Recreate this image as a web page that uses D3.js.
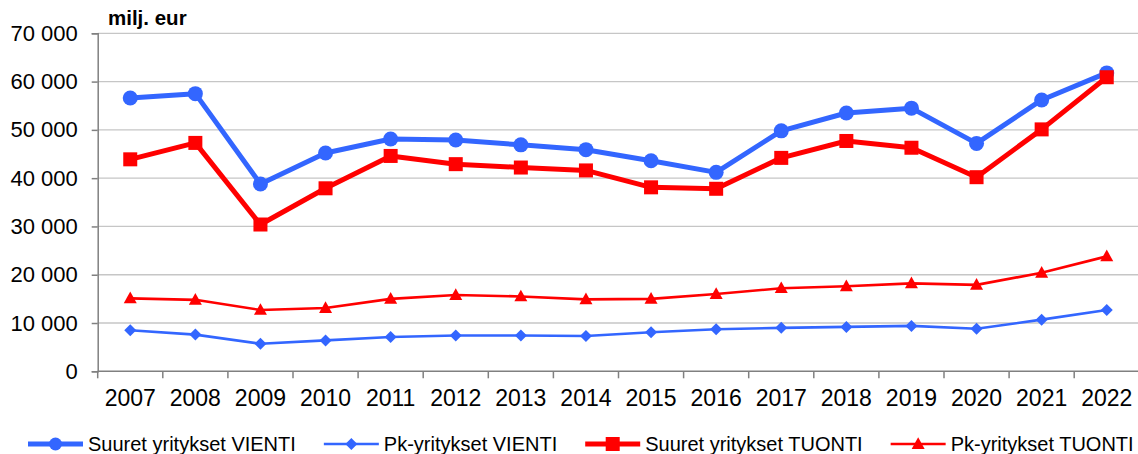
<!DOCTYPE html>
<html>
<head>
<meta charset="utf-8">
<script src="https://cdn.jsdelivr.net/npm/d3@7"></script>
<style>
  html, body { margin: 0; padding: 0; background: #fff; }
  svg { display: block; font-family: "Liberation Sans", Arial, sans-serif; }
</style>
</head>
<body>
<svg id="chart" width="1138" height="454"></svg>
<script>
const years = ["2007", "2008", "2009", "2010", "2011", "2012", "2013", "2014",
  "2015", "2016", "2017", "2018", "2019", "2020", "2021", "2022"];

const suuretVienti = [56600, 57500, 38800, 45200, 48100, 47900, 46900, 45900,
  43600, 41200, 49800, 53500, 54500, 47200, 56200, 61800];
const pkVienti = [8500, 7600, 5700, 6400, 7100, 7400, 7400, 7300,
  8100, 8700, 9000, 9200, 9400, 8800, 10700, 12700];
const suuretTuonti = [43900, 47300, 30400, 37900, 44600, 42900, 42200, 41600,
  38100, 37800, 44200, 47700, 46300, 40200, 50100, 60900];
const pkTuonti = [15100, 14800, 12700, 13100, 15000, 15800, 15500, 14900,
  15000, 16000, 17200, 17600, 18200, 17900, 20400, 23800];

const yTicks = [0, 10000, 20000, 30000, 40000, 50000, 60000, 70000];

const blue = "#3366ff";
const red = "#ff0000";

const series = [
  { name: "Suuret yritykset VIENTI", values: suuretVienti, color: blue, width: 5, marker: "circle" },
  { name: "Pk-yritykset VIENTI", values: pkVienti, color: blue, width: 2.6, marker: "diamond" },
  { name: "Suuret yritykset TUONTI", values: suuretTuonti, color: red, width: 5, marker: "square" },
  { name: "Pk-yritykset TUONTI", values: pkTuonti, color: red, width: 2.6, marker: "triangle" }
];

const svg = d3.select("#chart");

const x = d3.scaleBand().domain(years).range([97.7, 1139.3]);
const y = d3.scaleLinear().domain([0, 70000]).range([371.3, 33.3]);

const fmt = v => d3.format(",")(v).replace(/,/g, " ");

// gridlines
svg.append("g")
  .selectAll("line")
  .data(yTicks.filter(t => t > 0))
  .join("line")
  .attr("x1", x.range()[0])
  .attr("x2", 1138)
  .attr("y1", d => y(d))
  .attr("y2", d => y(d))
  .attr("stroke", "#c6c6c6")
  .attr("stroke-width", 1.3);

// y axis
const yAxis = svg.append("g")
  .attr("transform", `translate(${x.range()[0]},0)`)
  .call(d3.axisLeft(y).tickValues(yTicks).tickFormat(fmt).tickSize(6).tickPadding(14));
yAxis.select(".domain").attr("stroke", "#808080").attr("stroke-width", 1.5);
yAxis.selectAll(".tick line").attr("stroke", "#808080").attr("stroke-width", 1.5);
yAxis.selectAll(".tick text")
  .attr("font-size", 22)
  .attr("font-family", "Liberation Sans, Arial, sans-serif")
  .attr("fill", "#000");

// x axis: ticks between categories
const xAxis = svg.append("g")
  .attr("transform", `translate(0,${y(0)})`);
xAxis.append("line")
  .attr("x1", x.range()[0])
  .attr("x2", 1138)
  .attr("stroke", "#808080")
  .attr("stroke-width", 1.5);
xAxis.selectAll("line.tick")
  .data(years)
  .join("line")
  .attr("class", "tick")
  .attr("x1", d => x(d))
  .attr("x2", d => x(d))
  .attr("y1", 0)
  .attr("y2", 7)
  .attr("stroke", "#808080")
  .attr("stroke-width", 1.5);
xAxis.selectAll("text")
  .data(years)
  .join("text")
  .attr("x", d => x(d) + x.bandwidth() / 2)
  .attr("y", 35)
  .attr("text-anchor", "middle")
  .attr("font-size", 23)
  .attr("fill", "#000")
  .text(d => d);

// unit title
svg.append("text")
  .attr("x", 108)
  .attr("y", 25)
  .attr("font-size", 20.5)
  .attr("font-weight", "bold")
  .attr("fill", "#000")
  .text("milj. eur");

function drawMarker(g, type, color, size) {
  if (type === "circle") {
    g.append("circle").attr("r", size).attr("fill", color);
  } else if (type === "square") {
    g.append("rect").attr("x", -size).attr("y", -size)
      .attr("width", size * 2).attr("height", size * 2).attr("fill", color);
  } else if (type === "diamond") {
    g.append("path")
      .attr("d", `M0,${-size}L${size},0L0,${size}L${-size},0Z`)
      .attr("fill", color);
  } else if (type === "triangle") {
    g.append("path")
      .attr("d", `M0,${-size * 1.05}L${size},${size * 0.75}L${-size},${size * 0.75}Z`)
      .attr("fill", color);
  }
}

const markerSize = { circle: 7.5, square: 7, diamond: 6, triangle: 6.5 };

const line = d3.line()
  .x((d, i) => x(years[i]) + x.bandwidth() / 2)
  .y(d => y(d));

// draw lines: small ones first, big ones on top
const drawOrder = [series[1], series[3], series[0], series[2]];
drawOrder.forEach(s => {
  const g = svg.append("g");
  g.append("path")
    .datum(s.values)
    .attr("d", line)
    .attr("fill", "none")
    .attr("stroke", s.color)
    .attr("stroke-width", s.width)
    .attr("stroke-linejoin", "round");
  s.values.forEach((v, i) => {
    const m = g.append("g")
      .attr("transform", `translate(${x(years[i]) + x.bandwidth() / 2},${y(v)})`);
    drawMarker(m, s.marker, s.color, markerSize[s.marker]);
  });
});

// legend
const legend = svg.append("g").attr("transform", "translate(0,444)");
let lx = 28;
series.forEach(s => {
  const item = legend.append("g").attr("transform", `translate(${lx},0)`);
  item.append("line")
    .attr("x1", 0).attr("x2", 55)
    .attr("stroke", s.color)
    .attr("stroke-width", s.width);
  const m = item.append("g").attr("transform", "translate(27.5,0)");
  drawMarker(m, s.marker, s.color, s.marker === "circle" ? 6.5 : markerSize[s.marker]);
  const t = item.append("text")
    .attr("x", 60)
    .attr("y", 7)
    .attr("font-size", 20)
    .attr("fill", "#000")
    .text(s.name);
  lx += 60 + t.node().getComputedTextLength() + 28;
});
</script>
</body>
</html>
